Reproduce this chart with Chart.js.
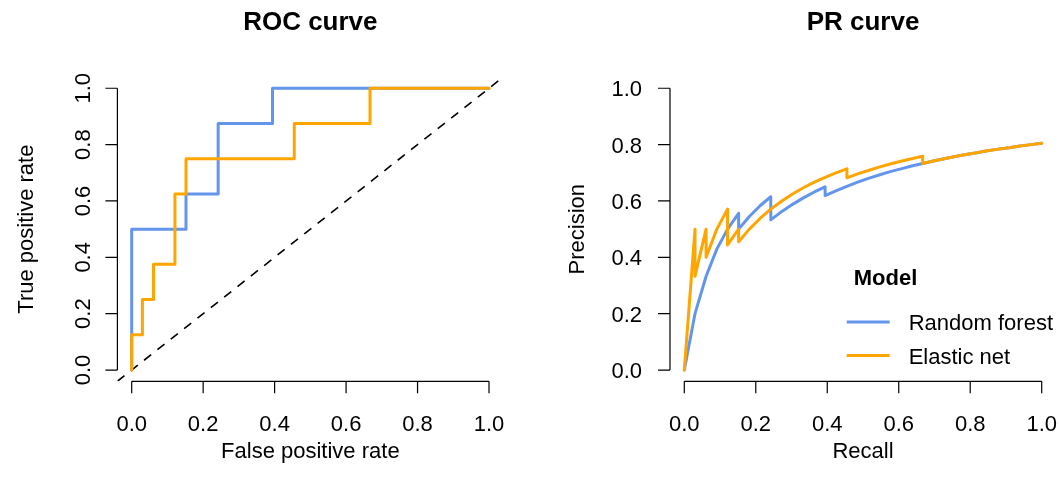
<!DOCTYPE html>
<html>
<head>
<meta charset="utf-8">
<script src="https://cdn.jsdelivr.net/npm/chart.js@4/dist/chart.umd.min.js"></script>
<style>
    html, body { margin: 0; padding: 0; background: #fff; }
    #wrap { position: relative; width: 1059px; height: 488px; }
    .panel { position: absolute; top: 0; height: 488px; }
    #roc-panel { left: 0; width: 540px; }
    #pr-panel { left: 540px; width: 519px; }
</style>
</head>
<body>
<div id="wrap">
    <div class="panel" id="roc-panel"><canvas id="rocChart"></canvas></div>
    <div class="panel" id="pr-panel"><canvas id="prChart"></canvas></div>
</div>
<script>
// Axis ticks
const tickValues = [0, 0.2, 0.4, 0.6, 0.8, 1.0];
const tickLabels = ['0.0', '0.2', '0.4', '0.6', '0.8', '1.0'];

const modelNames = ['Random forest', 'Elastic net'];

// ROC curve (false positive rate / true positive rate)
const rocFprRF = [0, 0, 0.152, 0.152, 0.242, 0.242, 0.394, 0.394, 1];
const rocTprRF = [0, 0.5, 0.5, 0.625, 0.625, 0.875, 0.875, 1, 1];
const rocFprEN = [0, 0, 0.030, 0.030, 0.061, 0.061, 0.121, 0.121, 0.152, 0.152, 0.455, 0.455, 0.667, 0.667, 1];
const rocTprEN = [0, 0.125, 0.125, 0.25, 0.25, 0.375, 0.375, 0.625, 0.625, 0.75, 0.75, 0.875, 0.875, 1, 1];
const diagX = [-0.04, 1.04];
const diagY = [-0.04, 1.04];

// PR curve (recall / precision)
const prRecallRF = [0, 0.030, 0.061, 0.091, 0.121, 0.152, 0.152, 0.182, 0.212, 0.242, 0.242, 0.273, 0.303,
    0.333, 0.364, 0.394, 0.394, 0.424, 0.455, 0.485, 0.515, 0.545, 0.576, 0.606, 0.636, 0.667, 0.697,
    0.727, 0.758, 0.788, 0.818, 0.848, 0.879, 0.909, 0.939, 0.970, 1];
const prPrecRF = [0, 0.200, 0.333, 0.429, 0.500, 0.556, 0.500, 0.545, 0.583, 0.615, 0.533, 0.563, 0.588,
    0.611, 0.632, 0.650, 0.619, 0.636, 0.652, 0.667, 0.680, 0.692, 0.704, 0.714, 0.724, 0.733, 0.742,
    0.750, 0.758, 0.765, 0.771, 0.778, 0.784, 0.789, 0.795, 0.800, 0.805];
const prRecallEN = [0, 0.030, 0.030, 0.061, 0.061, 0.091, 0.121, 0.121, 0.152, 0.152, 0.182, 0.212, 0.242,
    0.273, 0.303, 0.333, 0.364, 0.394, 0.424, 0.455, 0.455, 0.485, 0.515, 0.545, 0.576, 0.606, 0.636,
    0.667, 0.667, 0.697, 0.727, 0.758, 0.788, 0.818, 0.848, 0.879, 0.909, 0.939, 0.970, 1];
const prPrecEN = [0, 0.500, 0.333, 0.500, 0.400, 0.500, 0.571, 0.444, 0.500, 0.455, 0.500, 0.538, 0.571,
    0.600, 0.625, 0.647, 0.667, 0.684, 0.700, 0.714, 0.682, 0.696, 0.708, 0.720, 0.731, 0.741, 0.750,
    0.759, 0.733, 0.742, 0.750, 0.758, 0.765, 0.771, 0.778, 0.784, 0.789, 0.795, 0.800, 0.805];

const COLOR_RF = '#6495ED';
const COLOR_EN = '#FFA500';
const FONT = "'Liberation Sans', Arial, Helvetica, sans-serif";
const TICK_LEN = 12;

function toPoints(xs, ys) {
    return xs.map((x, i) => ({ x: x, y: ys[i] }));
}

function curve(label, xs, ys, color, order) {
    return {
        label: label,
        data: toPoints(xs, ys),
        borderColor: color,
        borderWidth: 3,
        pointRadius: 0,
        showLine: true,
        tension: 0,
        borderJoinStyle: 'round',
        borderCapStyle: 'round',
        order: order
    };
}

// base R style axes, titles and legend
const rAxesPlugin = {
    id: 'rAxes',
    afterDraw(chart, args, opts) {
        const ctx = chart.ctx;
        const area = chart.chartArea;
        const xs = chart.scales.x;
        const ys = chart.scales.y;
        const first = tickValues[0];
        const last = tickValues[tickValues.length - 1];

        ctx.save();
        ctx.strokeStyle = '#000';
        ctx.fillStyle = '#000';
        ctx.lineWidth = 1.2;
        ctx.lineCap = 'butt';

        // x axis
        ctx.beginPath();
        ctx.moveTo(xs.getPixelForValue(first), area.bottom);
        ctx.lineTo(xs.getPixelForValue(last), area.bottom);
        tickValues.forEach(v => {
            const px = xs.getPixelForValue(v);
            ctx.moveTo(px, area.bottom);
            ctx.lineTo(px, area.bottom + TICK_LEN);
        });
        // y axis
        ctx.moveTo(area.left, ys.getPixelForValue(first));
        ctx.lineTo(area.left, ys.getPixelForValue(last));
        tickValues.forEach(v => {
            const py = ys.getPixelForValue(v);
            ctx.moveTo(area.left, py);
            ctx.lineTo(area.left - TICK_LEN, py);
        });
        ctx.stroke();

        ctx.font = '22px ' + FONT;
        ctx.textBaseline = 'alphabetic';
        ctx.textAlign = 'center';
        tickValues.forEach((v, i) => {
            ctx.fillText(tickLabels[i], xs.getPixelForValue(v), 431);
        });

        tickValues.forEach((v, i) => {
            const py = ys.getPixelForValue(v);
            if (opts.rotateY) {
                ctx.save();
                ctx.translate(opts.yTickX, py);
                ctx.rotate(-Math.PI / 2);
                ctx.textAlign = 'center';
                ctx.fillText(tickLabels[i], 0, 0);
                ctx.restore();
            } else {
                ctx.textAlign = 'right';
                ctx.fillText(tickLabels[i], opts.yTickX, py + 8);
            }
        });

        // axis titles
        const midX = (area.left + area.right) / 2;
        const midY = (area.top + area.bottom) / 2;
        ctx.textAlign = 'center';
        ctx.fillText(opts.xTitle, midX, 458);
        ctx.save();
        ctx.translate(opts.yTitleX, midY);
        ctx.rotate(-Math.PI / 2);
        ctx.fillText(opts.yTitle, 0, 0);
        ctx.restore();

        // main title
        ctx.font = 'bold 26px ' + FONT;
        ctx.fillText(opts.title, midX, 29.5);

        if (opts.legend) {
            const lg = opts.legend;
            ctx.textAlign = 'left';
            ctx.font = 'bold 22px ' + FONT;
            ctx.fillText(lg.title, lg.x + 7, lg.titleY);
            ctx.font = '22px ' + FONT;
            lg.items.forEach((item, i) => {
                const y = lg.firstY + i * lg.step;
                ctx.strokeStyle = item.color;
                ctx.lineWidth = 3;
                ctx.beginPath();
                ctx.moveTo(lg.x, y);
                ctx.lineTo(lg.x + 43, y);
                ctx.stroke();
                ctx.fillText(item.label, lg.x + 62, y + 8);
            });
        }
        ctx.restore();
    }
};

function linearScale() {
    return { type: 'linear', min: -0.04, max: 1.04, display: false };
}

function baseOptions(padding, axes) {
    return {
        responsive: true,
        maintainAspectRatio: false,
        animation: false,
        layout: { padding: padding },
        scales: { x: linearScale(), y: linearScale() },
        plugins: {
            legend: { display: false },
            tooltip: { enabled: false },
            rAxes: axes
        }
    };
}

const rocChart = new Chart(document.getElementById('rocChart').getContext('2d'), {
    type: 'scatter',
    data: {
        datasets: [
            curve(modelNames[1], rocFprEN, rocTprEN, COLOR_EN, 0),
            curve(modelNames[0], rocFprRF, rocTprRF, COLOR_RF, 1),
            {
                label: 'chance',
                data: toPoints(diagX, diagY),
                borderColor: '#000',
                borderWidth: 1.6,
                borderDash: [9, 8],
                pointRadius: 0,
                showLine: true,
                order: 2
            }
        ]
    },
    options: baseOptions({ left: 117.4, right: 36.7, top: 77, bottom: 106.7 }, {
        title: 'ROC curve',
        xTitle: 'False positive rate',
        yTitle: 'True positive rate',
        rotateY: true,
        yTickX: 90,
        yTitleX: 33
    }),
    plugins: [rAxesPlugin]
});

const prChart = new Chart(document.getElementById('prChart').getContext('2d'), {
    type: 'scatter',
    data: {
        datasets: [
            curve(modelNames[1], prRecallEN, prPrecEN, COLOR_EN, 0),
            curve(modelNames[0], prRecallRF, prPrecRF, COLOR_RF, 1)
        ]
    },
    options: baseOptions({ left: 130, right: 3, top: 77, bottom: 106.7 }, {
        title: 'PR curve',
        xTitle: 'Recall',
        yTitle: 'Precision',
        rotateY: false,
        yTickX: 102,
        yTitleX: 43.5,
        legend: {
            title: 'Model',
            x: 306.7,
            titleY: 285,
            firstY: 322,
            step: 33.5,
            items: [
                { label: modelNames[0], color: COLOR_RF },
                { label: modelNames[1], color: COLOR_EN }
            ]
        }
    }),
    plugins: [rAxesPlugin]
});
</script>
</body>
</html>
